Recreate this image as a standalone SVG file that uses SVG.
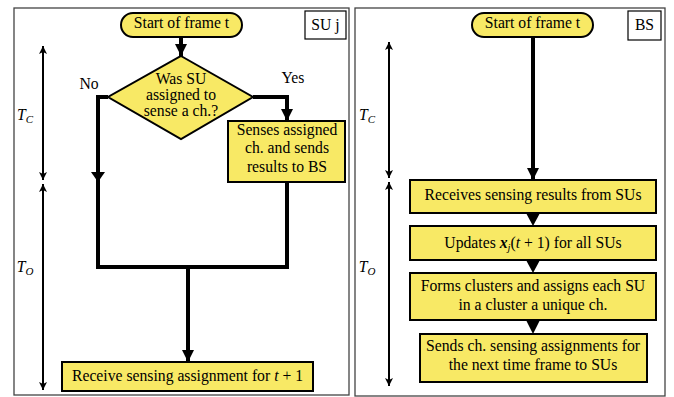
<svg xmlns="http://www.w3.org/2000/svg" width="674" height="397" viewBox="0 0 674 397" font-family="'Liberation Serif', 'DejaVu Serif', serif">
  <defs>
    <marker id="head" viewBox="0 0 12 12" refX="12" refY="6" markerWidth="12" markerHeight="12" markerUnits="userSpaceOnUse" orient="auto">
      <path d="M0,0 L12,6 L0,12 Z" fill="#000"/>
    </marker>
    <marker id="tick" viewBox="0 0 8 8" refX="8" refY="4" markerWidth="8" markerHeight="8" markerUnits="userSpaceOnUse" orient="auto-start-reverse">
      <path d="M0,0 L8,4 L0,8 L2,4 Z" fill="#000"/>
    </marker>
  </defs>
  <style>
    text { font-family: 'Liberation Serif', 'DejaVu Serif', serif; font-size: 15.7px; fill: #000; text-anchor: middle; }
    .panel { fill: #fff; stroke: #444; stroke-width: 1.3; }
    .tag { fill: #fff; stroke: #000; stroke-width: 1.2; }
    .node { fill: #f8e965; stroke: #000; stroke-width: 2; }
    .flow { fill: none; stroke: #000; stroke-width: 4; }
    .time { fill: none; stroke: #000; stroke-width: 2; }
    .it { font-style: italic; }
  </style>

  <rect width="674" height="397" fill="#fff"/>

  <!-- SU panel -->
  <g id="panel-su">
    <rect class="panel" x="14" y="8" width="335" height="387"/>
    <rect class="tag" x="305" y="11" width="41" height="28"/>
    <text x="325.5" y="29.5">SU j</text>
  </g>
  <!-- BS panel -->
  <g id="panel-bs">
    <rect class="panel" x="355" y="8" width="310" height="388"/>
    <rect class="tag" x="628" y="11" width="33" height="29"/>
    <text x="644.5" y="29.5">BS</text>
  </g>

  <!-- timing bars -->
  <g id="timing">
    <line class="time" x1="43" y1="46" x2="43" y2="180" marker-start="url(#tick)" marker-end="url(#tick)"/>
    <line class="time" x1="43" y1="184" x2="43" y2="390" marker-start="url(#tick)" marker-end="url(#tick)"/>
    <line class="time" x1="389" y1="42" x2="389" y2="178" marker-start="url(#tick)" marker-end="url(#tick)"/>
    <line class="time" x1="389" y1="182" x2="389" y2="386" marker-start="url(#tick)" marker-end="url(#tick)"/>
    <text class="it" x="25" y="120" font-size="16">T<tspan font-size="11" dy="3">C</tspan></text>
    <text class="it" x="25" y="272" font-size="16">T<tspan font-size="11" dy="3">O</tspan></text>
    <text class="it" x="367" y="120" font-size="16">T<tspan font-size="11" dy="3">C</tspan></text>
    <text class="it" x="367" y="272" font-size="16">T<tspan font-size="11" dy="3">O</tspan></text>
  </g>

  <!-- connectors -->
  <g id="connectors">
    <line class="flow" x1="181" y1="37" x2="181" y2="56" marker-end="url(#head)"/>
    <polyline class="flow" points="108,97 98,97 98,267"/>
    <path d="M91,172 L105,172 L98,182 Z" fill="#000"/>
    <polyline class="flow" points="253,97 287,97 287,121" marker-end="url(#head)"/>
    <polyline class="flow" points="287,182 287,267 96,267"/>
    <line class="flow" x1="188" y1="267" x2="188" y2="362" marker-end="url(#head)"/>
    <line class="flow" x1="533" y1="37" x2="533" y2="180" marker-end="url(#head)"/>
    <path d="M526,213 L540,213 L533,226 Z" fill="#000"/>
    <path d="M526,260 L540,260 L533,273 Z" fill="#000"/>
    <path d="M526,320 L540,320 L533,334 Z" fill="#000"/>
    <text x="89" y="89">No</text>
    <text x="293" y="83">Yes</text>
  </g>

  <!-- SU flow -->
  <g id="su-start">
    <rect class="node" x="121" y="13" width="121" height="24" rx="12"/>
    <text x="181.5" y="28">Start of frame t</text>
  </g>
  <g id="su-decision">
    <polygon class="node" points="181,56 253,97 181,139 108,97"/>
    <text x="181" y="84" font-size="14.5">Was SU</text>
    <text x="181" y="100" font-size="14.5">assigned to</text>
    <text x="181" y="116" font-size="14.5">sense a ch.?</text>
  </g>
  <g id="su-sense">
    <rect class="node" x="228" y="121" width="117" height="61"/>
    <text x="287" y="134.5">Senses assigned</text>
    <text x="287" y="153">ch. and sends</text>
    <text x="287" y="171.5">results to BS</text>
  </g>
  <g id="su-receive">
    <rect class="node" x="62" y="362" width="251" height="29"/>
    <text x="187.5" y="380.5">Receive sensing assignment for <tspan class="it">t</tspan> + 1</text>
  </g>

  <!-- BS flow -->
  <g id="bs-start">
    <rect class="node" x="472" y="13" width="121" height="24" rx="12"/>
    <text x="532.5" y="28">Start of frame t</text>
  </g>
  <g id="bs-receive">
    <rect class="node" x="410" y="180" width="246" height="33"/>
    <text x="533" y="199.5">Receives sensing results from SUs</text>
  </g>
  <g id="bs-update">
    <rect class="node" x="410" y="226" width="246" height="34"/>
    <text x="533" y="247.5">Updates <tspan font-weight="bold" font-style="italic">x</tspan><tspan font-style="italic" font-size="10.5" dy="3">j</tspan><tspan dy="-3">(</tspan><tspan class="it">t</tspan> + 1) for all SUs</text>
  </g>
  <g id="bs-cluster">
    <rect class="node" x="410" y="273" width="246" height="47"/>
    <text x="533" y="290.5">Forms clusters and assigns each SU</text>
    <text x="533" y="309.5">in a cluster a unique ch.</text>
  </g>
  <g id="bs-send">
    <rect class="node" x="420" y="334" width="227" height="48"/>
    <text x="533" y="350.5">Sends ch. sensing assignments for</text>
    <text x="533" y="369.5">the next time frame to SUs</text>
  </g>
</svg>
